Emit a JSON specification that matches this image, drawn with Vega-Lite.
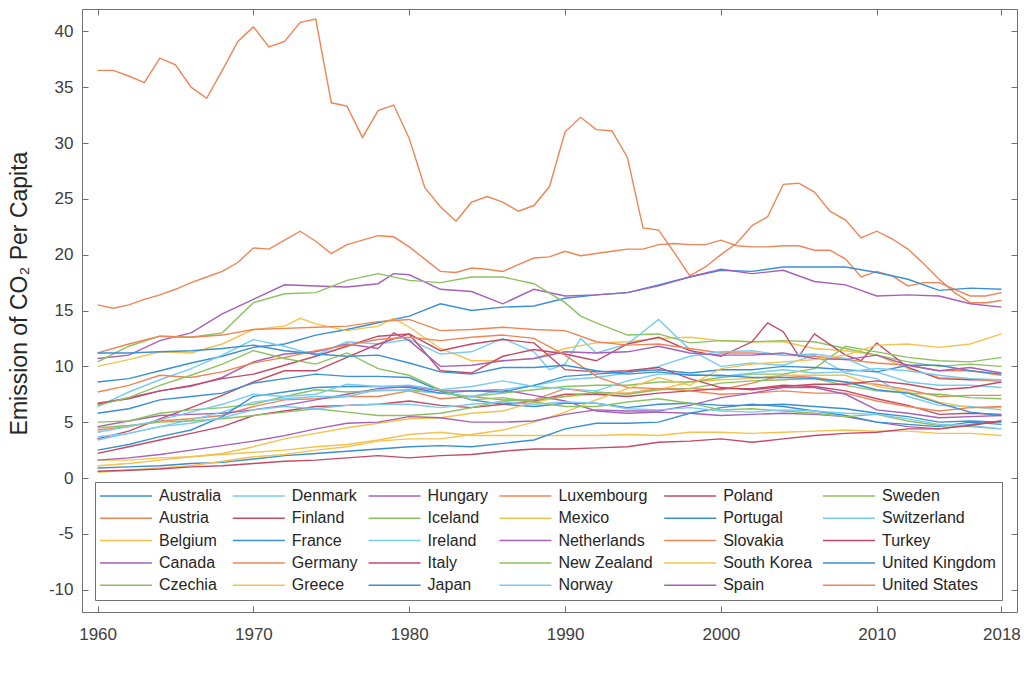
{
"$schema": "https://vega.github.io/schema/vega-lite/v6.json",
"width": 935, "height": 603,
"autosize": {"type": "none"},
"padding": {"left": 82, "top": 9, "right": 7, "bottom": 65},
"background": "white",
"config": {"view": {"stroke": "#707070", "strokeWidth": 1}, "font": "Liberation Sans"},
"datasets": {"d": [
{"c":"Luxembourg","y":1960,"v":36.5},{"c":"Luxembourg","y":1961,"v":36.5},{"c":"Luxembourg","y":1962,"v":36.0},{"c":"Luxembourg","y":1963,"v":35.4},{"c":"Luxembourg","y":1964,"v":37.6},{"c":"Luxembourg","y":1965,"v":37.0},{"c":"Luxembourg","y":1966,"v":35.0},{"c":"Luxembourg","y":1967,"v":34.0},{"c":"Luxembourg","y":1968,"v":36.5},{"c":"Luxembourg","y":1969,"v":39.1},{"c":"Luxembourg","y":1970,"v":40.4},{"c":"Luxembourg","y":1971,"v":38.6},{"c":"Luxembourg","y":1972,"v":39.1},{"c":"Luxembourg","y":1973,"v":40.8},{"c":"Luxembourg","y":1974,"v":41.1},{"c":"Luxembourg","y":1975,"v":33.6},{"c":"Luxembourg","y":1976,"v":33.3},{"c":"Luxembourg","y":1977,"v":30.5},{"c":"Luxembourg","y":1978,"v":32.9},{"c":"Luxembourg","y":1979,"v":33.4},{"c":"Luxembourg","y":1980,"v":30.4},{"c":"Luxembourg","y":1981,"v":26.0},{"c":"Luxembourg","y":1982,"v":24.3},{"c":"Luxembourg","y":1983,"v":23.0},{"c":"Luxembourg","y":1984,"v":24.7},{"c":"Luxembourg","y":1985,"v":25.2},{"c":"Luxembourg","y":1986,"v":24.7},{"c":"Luxembourg","y":1987,"v":23.9},{"c":"Luxembourg","y":1988,"v":24.4},{"c":"Luxembourg","y":1989,"v":26.1},{"c":"Luxembourg","y":1990,"v":31.0},{"c":"Luxembourg","y":1991,"v":32.3},{"c":"Luxembourg","y":1992,"v":31.2},{"c":"Luxembourg","y":1993,"v":31.1},{"c":"Luxembourg","y":1994,"v":28.7},{"c":"Luxembourg","y":1995,"v":22.4},{"c":"Luxembourg","y":1996,"v":22.2},{"c":"Luxembourg","y":1997,"v":20.2},{"c":"Luxembourg","y":1998,"v":18.1},{"c":"Luxembourg","y":1999,"v":18.9},{"c":"Luxembourg","y":2000,"v":20.0},{"c":"Luxembourg","y":2001,"v":21.0},{"c":"Luxembourg","y":2002,"v":22.6},{"c":"Luxembourg","y":2003,"v":23.4},{"c":"Luxembourg","y":2004,"v":26.3},{"c":"Luxembourg","y":2005,"v":26.4},{"c":"Luxembourg","y":2006,"v":25.6},{"c":"Luxembourg","y":2007,"v":23.9},{"c":"Luxembourg","y":2008,"v":23.1},{"c":"Luxembourg","y":2009,"v":21.5},{"c":"Luxembourg","y":2010,"v":22.1},{"c":"Luxembourg","y":2011,"v":21.4},{"c":"Luxembourg","y":2012,"v":20.5},{"c":"Luxembourg","y":2013,"v":19.2},{"c":"Luxembourg","y":2014,"v":17.8},{"c":"Luxembourg","y":2015,"v":16.6},{"c":"Luxembourg","y":2016,"v":15.7},{"c":"Luxembourg","y":2017,"v":15.7},{"c":"Luxembourg","y":2018,"v":15.9},
{"c":"United States","y":1960,"v":15.5},{"c":"United States","y":1961,"v":15.2},{"c":"United States","y":1962,"v":15.5},{"c":"United States","y":1963,"v":16.0},{"c":"United States","y":1964,"v":16.4},{"c":"United States","y":1965,"v":16.9},{"c":"United States","y":1966,"v":17.5},{"c":"United States","y":1967,"v":18.0},{"c":"United States","y":1968,"v":18.5},{"c":"United States","y":1969,"v":19.3},{"c":"United States","y":1970,"v":20.6},{"c":"United States","y":1971,"v":20.5},{"c":"United States","y":1972,"v":21.3},{"c":"United States","y":1973,"v":22.1},{"c":"United States","y":1974,"v":21.2},{"c":"United States","y":1975,"v":20.1},{"c":"United States","y":1976,"v":20.9},{"c":"United States","y":1977,"v":21.3},{"c":"United States","y":1978,"v":21.7},{"c":"United States","y":1979,"v":21.6},{"c":"United States","y":1980,"v":20.7},{"c":"United States","y":1981,"v":19.6},{"c":"United States","y":1982,"v":18.5},{"c":"United States","y":1983,"v":18.4},{"c":"United States","y":1984,"v":18.8},{"c":"United States","y":1985,"v":18.7},{"c":"United States","y":1986,"v":18.5},{"c":"United States","y":1987,"v":19.1},{"c":"United States","y":1988,"v":19.7},{"c":"United States","y":1989,"v":19.8},{"c":"United States","y":1990,"v":20.3},{"c":"United States","y":1991,"v":19.9},{"c":"United States","y":1992,"v":20.1},{"c":"United States","y":1993,"v":20.3},{"c":"United States","y":1994,"v":20.5},{"c":"United States","y":1995,"v":20.5},{"c":"United States","y":1996,"v":20.9},{"c":"United States","y":1997,"v":21.0},{"c":"United States","y":1998,"v":20.9},{"c":"United States","y":1999,"v":20.9},{"c":"United States","y":2000,"v":21.3},{"c":"United States","y":2001,"v":20.8},{"c":"United States","y":2002,"v":20.7},{"c":"United States","y":2003,"v":20.7},{"c":"United States","y":2004,"v":20.8},{"c":"United States","y":2005,"v":20.8},{"c":"United States","y":2006,"v":20.4},{"c":"United States","y":2007,"v":20.4},{"c":"United States","y":2008,"v":19.6},{"c":"United States","y":2009,"v":18.0},{"c":"United States","y":2010,"v":18.5},{"c":"United States","y":2011,"v":18.1},{"c":"United States","y":2012,"v":17.2},{"c":"United States","y":2013,"v":17.5},{"c":"United States","y":2014,"v":17.5},{"c":"United States","y":2015,"v":16.9},{"c":"United States","y":2016,"v":16.3},{"c":"United States","y":2017,"v":16.3},{"c":"United States","y":2018,"v":16.6},
{"c":"Australia","y":1960,"v":8.6},{"c":"Australia","y":1962,"v":8.9},{"c":"Australia","y":1964,"v":9.6},{"c":"Australia","y":1966,"v":10.3},{"c":"Australia","y":1968,"v":10.9},{"c":"Australia","y":1970,"v":11.7},{"c":"Australia","y":1972,"v":12.0},{"c":"Australia","y":1974,"v":12.8},{"c":"Australia","y":1976,"v":13.3},{"c":"Australia","y":1978,"v":13.9},{"c":"Australia","y":1980,"v":14.5},{"c":"Australia","y":1982,"v":15.6},{"c":"Australia","y":1984,"v":15.0},{"c":"Australia","y":1986,"v":15.3},{"c":"Australia","y":1988,"v":15.4},{"c":"Australia","y":1990,"v":16.1},{"c":"Australia","y":1992,"v":16.4},{"c":"Australia","y":1994,"v":16.6},{"c":"Australia","y":1996,"v":17.3},{"c":"Australia","y":1998,"v":18.0},{"c":"Australia","y":2000,"v":18.6},{"c":"Australia","y":2002,"v":18.5},{"c":"Australia","y":2004,"v":18.9},{"c":"Australia","y":2006,"v":18.9},{"c":"Australia","y":2008,"v":18.9},{"c":"Australia","y":2010,"v":18.4},{"c":"Australia","y":2012,"v":17.8},{"c":"Australia","y":2014,"v":16.8},{"c":"Australia","y":2016,"v":17.0},{"c":"Australia","y":2018,"v":16.9},
{"c":"Austria","y":1960,"v":4.3},{"c":"Austria","y":1962,"v":4.6},{"c":"Austria","y":1964,"v":5.1},{"c":"Austria","y":1966,"v":5.3},{"c":"Austria","y":1968,"v":5.6},{"c":"Austria","y":1970,"v":6.4},{"c":"Austria","y":1972,"v":7.0},{"c":"Austria","y":1974,"v":7.1},{"c":"Austria","y":1976,"v":7.3},{"c":"Austria","y":1978,"v":7.3},{"c":"Austria","y":1980,"v":7.8},{"c":"Austria","y":1982,"v":7.1},{"c":"Austria","y":1984,"v":7.3},{"c":"Austria","y":1986,"v":7.0},{"c":"Austria","y":1988,"v":7.0},{"c":"Austria","y":1990,"v":8.0},{"c":"Austria","y":1992,"v":7.6},{"c":"Austria","y":1994,"v":7.6},{"c":"Austria","y":1996,"v":8.0},{"c":"Austria","y":1998,"v":8.0},{"c":"Austria","y":2000,"v":7.9},{"c":"Austria","y":2002,"v":8.5},{"c":"Austria","y":2004,"v":9.2},{"c":"Austria","y":2006,"v":9.0},{"c":"Austria","y":2008,"v":8.6},{"c":"Austria","y":2010,"v":8.4},{"c":"Austria","y":2012,"v":7.9},{"c":"Austria","y":2014,"v":7.3},{"c":"Austria","y":2016,"v":7.4},{"c":"Austria","y":2018,"v":7.4},
{"c":"Belgium","y":1960,"v":10.0},{"c":"Belgium","y":1962,"v":10.6},{"c":"Belgium","y":1964,"v":11.3},{"c":"Belgium","y":1966,"v":11.2},{"c":"Belgium","y":1968,"v":12.0},{"c":"Belgium","y":1970,"v":13.3},{"c":"Belgium","y":1972,"v":13.6},{"c":"Belgium","y":1973,"v":14.3},{"c":"Belgium","y":1974,"v":13.8},{"c":"Belgium","y":1976,"v":13.2},{"c":"Belgium","y":1978,"v":13.6},{"c":"Belgium","y":1979,"v":14.3},{"c":"Belgium","y":1980,"v":13.5},{"c":"Belgium","y":1982,"v":11.6},{"c":"Belgium","y":1984,"v":10.5},{"c":"Belgium","y":1986,"v":10.5},{"c":"Belgium","y":1988,"v":10.7},{"c":"Belgium","y":1990,"v":11.6},{"c":"Belgium","y":1992,"v":12.1},{"c":"Belgium","y":1994,"v":12.2},{"c":"Belgium","y":1996,"v":12.5},{"c":"Belgium","y":1998,"v":12.6},{"c":"Belgium","y":2000,"v":12.3},{"c":"Belgium","y":2002,"v":12.2},{"c":"Belgium","y":2004,"v":12.2},{"c":"Belgium","y":2006,"v":11.6},{"c":"Belgium","y":2008,"v":11.4},{"c":"Belgium","y":2010,"v":11.0},{"c":"Belgium","y":2012,"v":9.8},{"c":"Belgium","y":2014,"v":9.0},{"c":"Belgium","y":2016,"v":8.9},{"c":"Belgium","y":2018,"v":8.6},
{"c":"Canada","y":1960,"v":10.7},{"c":"Canada","y":1962,"v":11.0},{"c":"Canada","y":1964,"v":12.3},{"c":"Canada","y":1966,"v":13.0},{"c":"Canada","y":1968,"v":14.7},{"c":"Canada","y":1970,"v":16.0},{"c":"Canada","y":1972,"v":17.3},{"c":"Canada","y":1974,"v":17.2},{"c":"Canada","y":1976,"v":17.1},{"c":"Canada","y":1978,"v":17.4},{"c":"Canada","y":1979,"v":18.3},{"c":"Canada","y":1980,"v":18.2},{"c":"Canada","y":1982,"v":16.9},{"c":"Canada","y":1984,"v":16.7},{"c":"Canada","y":1986,"v":15.6},{"c":"Canada","y":1988,"v":16.9},{"c":"Canada","y":1990,"v":16.3},{"c":"Canada","y":1992,"v":16.4},{"c":"Canada","y":1994,"v":16.6},{"c":"Canada","y":1996,"v":17.2},{"c":"Canada","y":1998,"v":18.0},{"c":"Canada","y":2000,"v":18.7},{"c":"Canada","y":2002,"v":18.3},{"c":"Canada","y":2004,"v":18.6},{"c":"Canada","y":2006,"v":17.6},{"c":"Canada","y":2008,"v":17.3},{"c":"Canada","y":2010,"v":16.3},{"c":"Canada","y":2012,"v":16.4},{"c":"Canada","y":2014,"v":16.3},{"c":"Canada","y":2016,"v":15.6},{"c":"Canada","y":2018,"v":15.3},
{"c":"Czechia","y":1960,"v":10.4},{"c":"Czechia","y":1962,"v":11.8},{"c":"Czechia","y":1964,"v":12.7},{"c":"Czechia","y":1966,"v":12.6},{"c":"Czechia","y":1968,"v":13.0},{"c":"Czechia","y":1970,"v":15.7},{"c":"Czechia","y":1972,"v":16.5},{"c":"Czechia","y":1974,"v":16.6},{"c":"Czechia","y":1976,"v":17.7},{"c":"Czechia","y":1978,"v":18.3},{"c":"Czechia","y":1980,"v":17.7},{"c":"Czechia","y":1982,"v":17.5},{"c":"Czechia","y":1984,"v":18.0},{"c":"Czechia","y":1986,"v":18.0},{"c":"Czechia","y":1988,"v":17.4},{"c":"Czechia","y":1990,"v":15.7},{"c":"Czechia","y":1991,"v":14.5},{"c":"Czechia","y":1992,"v":13.9},{"c":"Czechia","y":1994,"v":12.8},{"c":"Czechia","y":1996,"v":12.9},{"c":"Czechia","y":1998,"v":12.1},{"c":"Czechia","y":2000,"v":12.3},{"c":"Czechia","y":2002,"v":12.2},{"c":"Czechia","y":2004,"v":12.3},{"c":"Czechia","y":2006,"v":12.2},{"c":"Czechia","y":2008,"v":11.6},{"c":"Czechia","y":2010,"v":11.0},{"c":"Czechia","y":2012,"v":10.4},{"c":"Czechia","y":2014,"v":10.0},{"c":"Czechia","y":2016,"v":10.2},{"c":"Czechia","y":2018,"v":10.0},
{"c":"Denmark","y":1960,"v":6.4},{"c":"Denmark","y":1962,"v":7.7},{"c":"Denmark","y":1964,"v":8.8},{"c":"Denmark","y":1966,"v":9.8},{"c":"Denmark","y":1968,"v":11.0},{"c":"Denmark","y":1970,"v":12.4},{"c":"Denmark","y":1972,"v":11.8},{"c":"Denmark","y":1974,"v":11.0},{"c":"Denmark","y":1976,"v":12.2},{"c":"Denmark","y":1978,"v":12.0},{"c":"Denmark","y":1980,"v":12.4},{"c":"Denmark","y":1982,"v":11.1},{"c":"Denmark","y":1984,"v":11.3},{"c":"Denmark","y":1986,"v":12.5},{"c":"Denmark","y":1988,"v":11.3},{"c":"Denmark","y":1989,"v":9.7},{"c":"Denmark","y":1990,"v":10.2},{"c":"Denmark","y":1991,"v":12.5},{"c":"Denmark","y":1992,"v":11.2},{"c":"Denmark","y":1994,"v":12.0},{"c":"Denmark","y":1996,"v":14.2},{"c":"Denmark","y":1998,"v":11.5},{"c":"Denmark","y":2000,"v":10.0},{"c":"Denmark","y":2002,"v":10.3},{"c":"Denmark","y":2004,"v":10.1},{"c":"Denmark","y":2006,"v":11.0},{"c":"Denmark","y":2008,"v":9.4},{"c":"Denmark","y":2010,"v":8.9},{"c":"Denmark","y":2012,"v":7.3},{"c":"Denmark","y":2014,"v":6.5},{"c":"Denmark","y":2016,"v":6.4},{"c":"Denmark","y":2018,"v":6.1},
{"c":"Finland","y":1960,"v":3.5},{"c":"Finland","y":1962,"v":4.2},{"c":"Finland","y":1964,"v":5.3},{"c":"Finland","y":1966,"v":6.3},{"c":"Finland","y":1968,"v":7.4},{"c":"Finland","y":1970,"v":8.6},{"c":"Finland","y":1972,"v":9.6},{"c":"Finland","y":1974,"v":9.6},{"c":"Finland","y":1976,"v":10.8},{"c":"Finland","y":1978,"v":12.0},{"c":"Finland","y":1980,"v":12.9},{"c":"Finland","y":1982,"v":9.6},{"c":"Finland","y":1984,"v":9.4},{"c":"Finland","y":1986,"v":10.9},{"c":"Finland","y":1988,"v":11.5},{"c":"Finland","y":1990,"v":11.1},{"c":"Finland","y":1992,"v":10.5},{"c":"Finland","y":1994,"v":12.0},{"c":"Finland","y":1996,"v":12.6},{"c":"Finland","y":1998,"v":11.4},{"c":"Finland","y":2000,"v":10.9},{"c":"Finland","y":2002,"v":12.2},{"c":"Finland","y":2003,"v":13.9},{"c":"Finland","y":2004,"v":13.1},{"c":"Finland","y":2005,"v":10.9},{"c":"Finland","y":2006,"v":12.9},{"c":"Finland","y":2008,"v":11.0},{"c":"Finland","y":2009,"v":10.5},{"c":"Finland","y":2010,"v":12.1},{"c":"Finland","y":2012,"v":9.9},{"c":"Finland","y":2014,"v":8.9},{"c":"Finland","y":2016,"v":8.8},{"c":"Finland","y":2018,"v":8.8},
{"c":"France","y":1960,"v":5.8},{"c":"France","y":1962,"v":6.2},{"c":"France","y":1964,"v":7.0},{"c":"France","y":1966,"v":7.3},{"c":"France","y":1968,"v":7.6},{"c":"France","y":1970,"v":8.5},{"c":"France","y":1972,"v":8.9},{"c":"France","y":1974,"v":9.3},{"c":"France","y":1976,"v":9.1},{"c":"France","y":1978,"v":9.1},{"c":"France","y":1980,"v":9.0},{"c":"France","y":1982,"v":7.8},{"c":"France","y":1984,"v":7.0},{"c":"France","y":1986,"v":6.6},{"c":"France","y":1988,"v":6.4},{"c":"France","y":1990,"v":6.7},{"c":"France","y":1992,"v":6.7},{"c":"France","y":1994,"v":6.3},{"c":"France","y":1996,"v":6.6},{"c":"France","y":1998,"v":6.7},{"c":"France","y":2000,"v":6.5},{"c":"France","y":2002,"v":6.5},{"c":"France","y":2004,"v":6.6},{"c":"France","y":2006,"v":6.4},{"c":"France","y":2008,"v":6.2},{"c":"France","y":2010,"v":5.8},{"c":"France","y":2012,"v":5.5},{"c":"France","y":2014,"v":5.0},{"c":"France","y":2016,"v":5.1},{"c":"France","y":2018,"v":5.0},
{"c":"Germany","y":1960,"v":11.2},{"c":"Germany","y":1962,"v":12.0},{"c":"Germany","y":1964,"v":12.7},{"c":"Germany","y":1966,"v":12.6},{"c":"Germany","y":1968,"v":12.8},{"c":"Germany","y":1970,"v":13.3},{"c":"Germany","y":1972,"v":13.4},{"c":"Germany","y":1974,"v":13.5},{"c":"Germany","y":1976,"v":13.6},{"c":"Germany","y":1978,"v":14.0},{"c":"Germany","y":1980,"v":14.2},{"c":"Germany","y":1982,"v":13.2},{"c":"Germany","y":1984,"v":13.3},{"c":"Germany","y":1986,"v":13.5},{"c":"Germany","y":1988,"v":13.3},{"c":"Germany","y":1990,"v":13.2},{"c":"Germany","y":1992,"v":12.2},{"c":"Germany","y":1994,"v":11.9},{"c":"Germany","y":1996,"v":12.0},{"c":"Germany","y":1998,"v":11.6},{"c":"Germany","y":2000,"v":11.2},{"c":"Germany","y":2002,"v":11.2},{"c":"Germany","y":2004,"v":11.0},{"c":"Germany","y":2006,"v":10.9},{"c":"Germany","y":2008,"v":10.6},{"c":"Germany","y":2010,"v":10.3},{"c":"Germany","y":2012,"v":10.1},{"c":"Germany","y":2014,"v":9.6},{"c":"Germany","y":2016,"v":9.6},{"c":"Germany","y":2018,"v":9.2},
{"c":"Greece","y":1960,"v":1.1},{"c":"Greece","y":1962,"v":1.3},{"c":"Greece","y":1964,"v":1.6},{"c":"Greece","y":1966,"v":1.9},{"c":"Greece","y":1968,"v":2.2},{"c":"Greece","y":1970,"v":2.8},{"c":"Greece","y":1972,"v":3.5},{"c":"Greece","y":1974,"v":4.0},{"c":"Greece","y":1976,"v":4.5},{"c":"Greece","y":1978,"v":4.9},{"c":"Greece","y":1980,"v":5.3},{"c":"Greece","y":1982,"v":5.4},{"c":"Greece","y":1984,"v":5.8},{"c":"Greece","y":1986,"v":6.0},{"c":"Greece","y":1988,"v":6.8},{"c":"Greece","y":1990,"v":7.3},{"c":"Greece","y":1992,"v":7.5},{"c":"Greece","y":1994,"v":7.6},{"c":"Greece","y":1996,"v":7.9},{"c":"Greece","y":1998,"v":8.6},{"c":"Greece","y":2000,"v":8.8},{"c":"Greece","y":2002,"v":8.9},{"c":"Greece","y":2004,"v":9.2},{"c":"Greece","y":2006,"v":9.2},{"c":"Greece","y":2008,"v":9.2},{"c":"Greece","y":2010,"v":8.2},{"c":"Greece","y":2012,"v":7.7},{"c":"Greece","y":2014,"v":6.8},{"c":"Greece","y":2016,"v":6.3},{"c":"Greece","y":2018,"v":6.3},
{"c":"Hungary","y":1960,"v":4.6},{"c":"Hungary","y":1962,"v":5.1},{"c":"Hungary","y":1964,"v":5.6},{"c":"Hungary","y":1966,"v":5.7},{"c":"Hungary","y":1968,"v":5.8},{"c":"Hungary","y":1970,"v":6.1},{"c":"Hungary","y":1972,"v":6.5},{"c":"Hungary","y":1974,"v":7.0},{"c":"Hungary","y":1976,"v":7.5},{"c":"Hungary","y":1978,"v":8.0},{"c":"Hungary","y":1980,"v":8.2},{"c":"Hungary","y":1982,"v":7.8},{"c":"Hungary","y":1984,"v":7.8},{"c":"Hungary","y":1986,"v":7.9},{"c":"Hungary","y":1988,"v":7.4},{"c":"Hungary","y":1990,"v":6.9},{"c":"Hungary","y":1992,"v":6.0},{"c":"Hungary","y":1994,"v":5.8},{"c":"Hungary","y":1996,"v":5.9},{"c":"Hungary","y":1998,"v":5.8},{"c":"Hungary","y":2000,"v":5.6},{"c":"Hungary","y":2002,"v":5.7},{"c":"Hungary","y":2004,"v":5.8},{"c":"Hungary","y":2006,"v":5.7},{"c":"Hungary","y":2008,"v":5.5},{"c":"Hungary","y":2010,"v":5.0},{"c":"Hungary","y":2012,"v":4.6},{"c":"Hungary","y":2014,"v":4.4},{"c":"Hungary","y":2016,"v":4.8},{"c":"Hungary","y":2018,"v":5.1},
{"c":"Iceland","y":1960,"v":5.0},{"c":"Iceland","y":1962,"v":5.1},{"c":"Iceland","y":1964,"v":5.8},{"c":"Iceland","y":1966,"v":6.1},{"c":"Iceland","y":1968,"v":6.3},{"c":"Iceland","y":1970,"v":6.6},{"c":"Iceland","y":1972,"v":7.3},{"c":"Iceland","y":1974,"v":7.9},{"c":"Iceland","y":1976,"v":7.7},{"c":"Iceland","y":1978,"v":7.8},{"c":"Iceland","y":1980,"v":7.9},{"c":"Iceland","y":1982,"v":7.6},{"c":"Iceland","y":1984,"v":7.3},{"c":"Iceland","y":1986,"v":7.6},{"c":"Iceland","y":1988,"v":7.9},{"c":"Iceland","y":1990,"v":8.2},{"c":"Iceland","y":1992,"v":8.3},{"c":"Iceland","y":1994,"v":8.3},{"c":"Iceland","y":1996,"v":8.6},{"c":"Iceland","y":1998,"v":8.6},{"c":"Iceland","y":2000,"v":9.0},{"c":"Iceland","y":2002,"v":9.3},{"c":"Iceland","y":2004,"v":9.3},{"c":"Iceland","y":2006,"v":9.8},{"c":"Iceland","y":2008,"v":11.8},{"c":"Iceland","y":2010,"v":11.3},{"c":"Iceland","y":2012,"v":10.8},{"c":"Iceland","y":2014,"v":10.5},{"c":"Iceland","y":2016,"v":10.4},{"c":"Iceland","y":2018,"v":10.8},
{"c":"Ireland","y":1960,"v":3.7},{"c":"Ireland","y":1962,"v":4.0},{"c":"Ireland","y":1964,"v":4.6},{"c":"Ireland","y":1966,"v":5.2},{"c":"Ireland","y":1968,"v":5.9},{"c":"Ireland","y":1970,"v":6.8},{"c":"Ireland","y":1972,"v":7.1},{"c":"Ireland","y":1974,"v":7.3},{"c":"Ireland","y":1976,"v":7.3},{"c":"Ireland","y":1978,"v":7.9},{"c":"Ireland","y":1980,"v":7.8},{"c":"Ireland","y":1982,"v":7.6},{"c":"Ireland","y":1984,"v":7.3},{"c":"Ireland","y":1986,"v":7.9},{"c":"Ireland","y":1988,"v":8.3},{"c":"Ireland","y":1990,"v":8.8},{"c":"Ireland","y":1992,"v":9.0},{"c":"Ireland","y":1994,"v":9.4},{"c":"Ireland","y":1996,"v":10.0},{"c":"Ireland","y":1998,"v":10.9},{"c":"Ireland","y":2000,"v":11.3},{"c":"Ireland","y":2002,"v":11.4},{"c":"Ireland","y":2004,"v":11.0},{"c":"Ireland","y":2006,"v":11.1},{"c":"Ireland","y":2008,"v":10.7},{"c":"Ireland","y":2010,"v":9.5},{"c":"Ireland","y":2012,"v":8.6},{"c":"Ireland","y":2014,"v":8.3},{"c":"Ireland","y":2016,"v":8.3},{"c":"Ireland","y":2018,"v":8.1},
{"c":"Italy","y":1960,"v":2.2},{"c":"Italy","y":1962,"v":2.8},{"c":"Italy","y":1964,"v":3.4},{"c":"Italy","y":1966,"v":4.0},{"c":"Italy","y":1968,"v":4.6},{"c":"Italy","y":1970,"v":5.6},{"c":"Italy","y":1972,"v":6.0},{"c":"Italy","y":1974,"v":6.4},{"c":"Italy","y":1976,"v":6.5},{"c":"Italy","y":1978,"v":6.6},{"c":"Italy","y":1980,"v":6.9},{"c":"Italy","y":1982,"v":6.5},{"c":"Italy","y":1984,"v":6.3},{"c":"Italy","y":1986,"v":6.6},{"c":"Italy","y":1988,"v":6.9},{"c":"Italy","y":1990,"v":7.5},{"c":"Italy","y":1992,"v":7.5},{"c":"Italy","y":1994,"v":7.3},{"c":"Italy","y":1996,"v":7.6},{"c":"Italy","y":1998,"v":7.8},{"c":"Italy","y":2000,"v":8.0},{"c":"Italy","y":2002,"v":8.0},{"c":"Italy","y":2004,"v":8.3},{"c":"Italy","y":2006,"v":8.2},{"c":"Italy","y":2008,"v":7.8},{"c":"Italy","y":2010,"v":7.1},{"c":"Italy","y":2012,"v":6.5},{"c":"Italy","y":2014,"v":5.7},{"c":"Italy","y":2016,"v":5.8},{"c":"Italy","y":2018,"v":5.7},
{"c":"Japan","y":1960,"v":2.5},{"c":"Japan","y":1962,"v":3.0},{"c":"Japan","y":1964,"v":3.7},{"c":"Japan","y":1966,"v":4.3},{"c":"Japan","y":1968,"v":5.5},{"c":"Japan","y":1970,"v":7.3},{"c":"Japan","y":1972,"v":7.7},{"c":"Japan","y":1974,"v":8.1},{"c":"Japan","y":1976,"v":8.2},{"c":"Japan","y":1978,"v":8.2},{"c":"Japan","y":1980,"v":8.1},{"c":"Japan","y":1982,"v":7.6},{"c":"Japan","y":1984,"v":7.8},{"c":"Japan","y":1986,"v":7.7},{"c":"Japan","y":1988,"v":8.3},{"c":"Japan","y":1990,"v":9.1},{"c":"Japan","y":1992,"v":9.3},{"c":"Japan","y":1994,"v":9.5},{"c":"Japan","y":1996,"v":9.7},{"c":"Japan","y":1998,"v":9.4},{"c":"Japan","y":2000,"v":9.7},{"c":"Japan","y":2002,"v":9.7},{"c":"Japan","y":2004,"v":10.0},{"c":"Japan","y":2006,"v":9.9},{"c":"Japan","y":2008,"v":9.7},{"c":"Japan","y":2010,"v":9.5},{"c":"Japan","y":2012,"v":10.1},{"c":"Japan","y":2014,"v":10.1},{"c":"Japan","y":2016,"v":9.6},{"c":"Japan","y":2018,"v":9.3},
{"c":"Mexico","y":1960,"v":1.6},{"c":"Mexico","y":1962,"v":1.6},{"c":"Mexico","y":1964,"v":1.8},{"c":"Mexico","y":1966,"v":1.9},{"c":"Mexico","y":1968,"v":2.1},{"c":"Mexico","y":1970,"v":2.3},{"c":"Mexico","y":1972,"v":2.5},{"c":"Mexico","y":1974,"v":2.8},{"c":"Mexico","y":1976,"v":3.0},{"c":"Mexico","y":1978,"v":3.4},{"c":"Mexico","y":1980,"v":3.9},{"c":"Mexico","y":1982,"v":4.1},{"c":"Mexico","y":1984,"v":3.8},{"c":"Mexico","y":1986,"v":3.8},{"c":"Mexico","y":1988,"v":3.8},{"c":"Mexico","y":1990,"v":3.8},{"c":"Mexico","y":1992,"v":3.8},{"c":"Mexico","y":1994,"v":3.9},{"c":"Mexico","y":1996,"v":3.8},{"c":"Mexico","y":1998,"v":4.1},{"c":"Mexico","y":2000,"v":4.1},{"c":"Mexico","y":2002,"v":4.0},{"c":"Mexico","y":2004,"v":4.1},{"c":"Mexico","y":2006,"v":4.2},{"c":"Mexico","y":2008,"v":4.3},{"c":"Mexico","y":2010,"v":4.2},{"c":"Mexico","y":2012,"v":4.2},{"c":"Mexico","y":2014,"v":4.0},{"c":"Mexico","y":2016,"v":4.0},{"c":"Mexico","y":2018,"v":3.8},
{"c":"Netherlands","y":1960,"v":6.6},{"c":"Netherlands","y":1962,"v":7.2},{"c":"Netherlands","y":1964,"v":7.8},{"c":"Netherlands","y":1966,"v":8.2},{"c":"Netherlands","y":1968,"v":9.0},{"c":"Netherlands","y":1970,"v":10.4},{"c":"Netherlands","y":1972,"v":11.1},{"c":"Netherlands","y":1974,"v":11.3},{"c":"Netherlands","y":1976,"v":12.0},{"c":"Netherlands","y":1978,"v":11.6},{"c":"Netherlands","y":1979,"v":13.0},{"c":"Netherlands","y":1980,"v":12.3},{"c":"Netherlands","y":1982,"v":10.0},{"c":"Netherlands","y":1984,"v":10.1},{"c":"Netherlands","y":1986,"v":10.5},{"c":"Netherlands","y":1988,"v":10.7},{"c":"Netherlands","y":1990,"v":11.3},{"c":"Netherlands","y":1992,"v":11.2},{"c":"Netherlands","y":1994,"v":11.3},{"c":"Netherlands","y":1996,"v":11.8},{"c":"Netherlands","y":1998,"v":11.2},{"c":"Netherlands","y":2000,"v":11.0},{"c":"Netherlands","y":2002,"v":11.0},{"c":"Netherlands","y":2004,"v":11.2},{"c":"Netherlands","y":2006,"v":10.7},{"c":"Netherlands","y":2008,"v":10.6},{"c":"Netherlands","y":2010,"v":11.0},{"c":"Netherlands","y":2012,"v":10.1},{"c":"Netherlands","y":2014,"v":9.6},{"c":"Netherlands","y":2016,"v":9.9},{"c":"Netherlands","y":2018,"v":9.4},
{"c":"New Zealand","y":1960,"v":4.5},{"c":"New Zealand","y":1962,"v":4.7},{"c":"New Zealand","y":1964,"v":5.0},{"c":"New Zealand","y":1966,"v":5.1},{"c":"New Zealand","y":1968,"v":5.3},{"c":"New Zealand","y":1970,"v":5.6},{"c":"New Zealand","y":1972,"v":5.9},{"c":"New Zealand","y":1974,"v":6.2},{"c":"New Zealand","y":1976,"v":5.9},{"c":"New Zealand","y":1978,"v":5.6},{"c":"New Zealand","y":1980,"v":5.6},{"c":"New Zealand","y":1982,"v":5.8},{"c":"New Zealand","y":1984,"v":6.3},{"c":"New Zealand","y":1986,"v":6.9},{"c":"New Zealand","y":1988,"v":7.0},{"c":"New Zealand","y":1990,"v":7.3},{"c":"New Zealand","y":1992,"v":7.7},{"c":"New Zealand","y":1994,"v":7.5},{"c":"New Zealand","y":1996,"v":7.9},{"c":"New Zealand","y":1998,"v":8.0},{"c":"New Zealand","y":2000,"v":8.5},{"c":"New Zealand","y":2002,"v":8.7},{"c":"New Zealand","y":2004,"v":8.8},{"c":"New Zealand","y":2006,"v":8.9},{"c":"New Zealand","y":2008,"v":8.3},{"c":"New Zealand","y":2010,"v":7.8},{"c":"New Zealand","y":2012,"v":7.6},{"c":"New Zealand","y":2014,"v":7.5},{"c":"New Zealand","y":2016,"v":7.2},{"c":"New Zealand","y":2018,"v":7.1},
{"c":"Norway","y":1960,"v":4.1},{"c":"Norway","y":1962,"v":4.6},{"c":"Norway","y":1964,"v":5.2},{"c":"Norway","y":1966,"v":5.9},{"c":"Norway","y":1968,"v":6.6},{"c":"Norway","y":1970,"v":7.5},{"c":"Norway","y":1972,"v":7.3},{"c":"Norway","y":1974,"v":7.5},{"c":"Norway","y":1976,"v":8.4},{"c":"Norway","y":1978,"v":8.2},{"c":"Norway","y":1980,"v":8.3},{"c":"Norway","y":1982,"v":7.9},{"c":"Norway","y":1984,"v":8.2},{"c":"Norway","y":1986,"v":8.7},{"c":"Norway","y":1988,"v":8.2},{"c":"Norway","y":1990,"v":8.0},{"c":"Norway","y":1992,"v":7.8},{"c":"Norway","y":1994,"v":8.7},{"c":"Norway","y":1996,"v":9.3},{"c":"Norway","y":1998,"v":9.3},{"c":"Norway","y":2000,"v":9.1},{"c":"Norway","y":2002,"v":9.4},{"c":"Norway","y":2004,"v":9.7},{"c":"Norway","y":2006,"v":9.4},{"c":"Norway","y":2008,"v":9.5},{"c":"Norway","y":2010,"v":9.8},{"c":"Norway","y":2012,"v":9.6},{"c":"Norway","y":2014,"v":9.2},{"c":"Norway","y":2016,"v":8.9},{"c":"Norway","y":2018,"v":8.8},
{"c":"Poland","y":1960,"v":6.7},{"c":"Poland","y":1962,"v":7.1},{"c":"Poland","y":1964,"v":7.8},{"c":"Poland","y":1966,"v":8.3},{"c":"Poland","y":1968,"v":8.9},{"c":"Poland","y":1970,"v":9.3},{"c":"Poland","y":1972,"v":10.1},{"c":"Poland","y":1974,"v":10.9},{"c":"Poland","y":1976,"v":11.8},{"c":"Poland","y":1978,"v":12.7},{"c":"Poland","y":1980,"v":12.9},{"c":"Poland","y":1982,"v":11.4},{"c":"Poland","y":1984,"v":12.0},{"c":"Poland","y":1986,"v":12.4},{"c":"Poland","y":1988,"v":12.1},{"c":"Poland","y":1990,"v":9.7},{"c":"Poland","y":1992,"v":9.5},{"c":"Poland","y":1994,"v":9.6},{"c":"Poland","y":1996,"v":9.9},{"c":"Poland","y":1998,"v":8.9},{"c":"Poland","y":2000,"v":8.1},{"c":"Poland","y":2002,"v":7.9},{"c":"Poland","y":2004,"v":8.2},{"c":"Poland","y":2006,"v":8.4},{"c":"Poland","y":2008,"v":8.4},{"c":"Poland","y":2010,"v":8.7},{"c":"Poland","y":2012,"v":8.4},{"c":"Poland","y":2014,"v":7.9},{"c":"Poland","y":2016,"v":8.1},{"c":"Poland","y":2018,"v":8.6},
{"c":"Portugal","y":1960,"v":0.9},{"c":"Portugal","y":1962,"v":1.0},{"c":"Portugal","y":1964,"v":1.1},{"c":"Portugal","y":1966,"v":1.3},{"c":"Portugal","y":1968,"v":1.4},{"c":"Portugal","y":1970,"v":1.7},{"c":"Portugal","y":1972,"v":2.0},{"c":"Portugal","y":1974,"v":2.2},{"c":"Portugal","y":1976,"v":2.4},{"c":"Portugal","y":1978,"v":2.6},{"c":"Portugal","y":1980,"v":2.8},{"c":"Portugal","y":1982,"v":2.9},{"c":"Portugal","y":1984,"v":2.8},{"c":"Portugal","y":1986,"v":3.1},{"c":"Portugal","y":1988,"v":3.4},{"c":"Portugal","y":1990,"v":4.4},{"c":"Portugal","y":1992,"v":4.9},{"c":"Portugal","y":1994,"v":4.9},{"c":"Portugal","y":1996,"v":5.0},{"c":"Portugal","y":1998,"v":5.8},{"c":"Portugal","y":2000,"v":6.3},{"c":"Portugal","y":2002,"v":6.6},{"c":"Portugal","y":2004,"v":6.4},{"c":"Portugal","y":2006,"v":6.0},{"c":"Portugal","y":2008,"v":5.6},{"c":"Portugal","y":2010,"v":5.0},{"c":"Portugal","y":2012,"v":4.8},{"c":"Portugal","y":2014,"v":4.6},{"c":"Portugal","y":2016,"v":5.0},{"c":"Portugal","y":2018,"v":4.8},
{"c":"Slovakia","y":1960,"v":7.7},{"c":"Slovakia","y":1962,"v":8.3},{"c":"Slovakia","y":1964,"v":9.2},{"c":"Slovakia","y":1966,"v":9.0},{"c":"Slovakia","y":1968,"v":9.5},{"c":"Slovakia","y":1970,"v":10.3},{"c":"Slovakia","y":1972,"v":10.8},{"c":"Slovakia","y":1974,"v":11.4},{"c":"Slovakia","y":1976,"v":11.9},{"c":"Slovakia","y":1978,"v":12.4},{"c":"Slovakia","y":1980,"v":12.6},{"c":"Slovakia","y":1982,"v":12.3},{"c":"Slovakia","y":1984,"v":12.6},{"c":"Slovakia","y":1986,"v":12.8},{"c":"Slovakia","y":1988,"v":12.5},{"c":"Slovakia","y":1990,"v":11.0},{"c":"Slovakia","y":1992,"v":9.1},{"c":"Slovakia","y":1994,"v":8.1},{"c":"Slovakia","y":1996,"v":8.0},{"c":"Slovakia","y":1998,"v":7.8},{"c":"Slovakia","y":2000,"v":7.5},{"c":"Slovakia","y":2002,"v":7.6},{"c":"Slovakia","y":2004,"v":7.8},{"c":"Slovakia","y":2006,"v":7.6},{"c":"Slovakia","y":2008,"v":7.6},{"c":"Slovakia","y":2010,"v":6.9},{"c":"Slovakia","y":2012,"v":6.4},{"c":"Slovakia","y":2014,"v":6.0},{"c":"Slovakia","y":2016,"v":6.3},{"c":"Slovakia","y":2018,"v":6.4},
{"c":"South Korea","y":1960,"v":0.5},{"c":"South Korea","y":1962,"v":0.7},{"c":"South Korea","y":1964,"v":0.9},{"c":"South Korea","y":1966,"v":1.1},{"c":"South Korea","y":1968,"v":1.5},{"c":"South Korea","y":1970,"v":1.9},{"c":"South Korea","y":1972,"v":2.1},{"c":"South Korea","y":1974,"v":2.5},{"c":"South Korea","y":1976,"v":2.8},{"c":"South Korea","y":1978,"v":3.3},{"c":"South Korea","y":1980,"v":3.5},{"c":"South Korea","y":1982,"v":3.5},{"c":"South Korea","y":1984,"v":3.9},{"c":"South Korea","y":1986,"v":4.3},{"c":"South Korea","y":1988,"v":5.0},{"c":"South Korea","y":1990,"v":5.9},{"c":"South Korea","y":1992,"v":7.0},{"c":"South Korea","y":1994,"v":8.0},{"c":"South Korea","y":1996,"v":9.0},{"c":"South Korea","y":1998,"v":8.3},{"c":"South Korea","y":2000,"v":9.8},{"c":"South Korea","y":2002,"v":10.2},{"c":"South Korea","y":2004,"v":10.4},{"c":"South Korea","y":2006,"v":10.6},{"c":"South Korea","y":2008,"v":11.0},{"c":"South Korea","y":2010,"v":11.9},{"c":"South Korea","y":2012,"v":12.0},{"c":"South Korea","y":2014,"v":11.7},{"c":"South Korea","y":2016,"v":12.0},{"c":"South Korea","y":2018,"v":12.9},
{"c":"Spain","y":1960,"v":1.6},{"c":"Spain","y":1962,"v":1.8},{"c":"Spain","y":1964,"v":2.1},{"c":"Spain","y":1966,"v":2.5},{"c":"Spain","y":1968,"v":2.9},{"c":"Spain","y":1970,"v":3.3},{"c":"Spain","y":1972,"v":3.8},{"c":"Spain","y":1974,"v":4.4},{"c":"Spain","y":1976,"v":4.9},{"c":"Spain","y":1978,"v":5.0},{"c":"Spain","y":1980,"v":5.5},{"c":"Spain","y":1982,"v":5.4},{"c":"Spain","y":1984,"v":5.0},{"c":"Spain","y":1986,"v":5.0},{"c":"Spain","y":1988,"v":5.1},{"c":"Spain","y":1990,"v":5.7},{"c":"Spain","y":1992,"v":6.1},{"c":"Spain","y":1994,"v":6.0},{"c":"Spain","y":1996,"v":6.0},{"c":"Spain","y":1998,"v":6.5},{"c":"Spain","y":2000,"v":7.2},{"c":"Spain","y":2002,"v":7.6},{"c":"Spain","y":2004,"v":8.1},{"c":"Spain","y":2006,"v":8.1},{"c":"Spain","y":2008,"v":7.5},{"c":"Spain","y":2010,"v":6.1},{"c":"Spain","y":2012,"v":5.8},{"c":"Spain","y":2014,"v":5.4},{"c":"Spain","y":2016,"v":5.5},{"c":"Spain","y":2018,"v":5.6},
{"c":"Sweden","y":1960,"v":6.5},{"c":"Sweden","y":1962,"v":7.2},{"c":"Sweden","y":1964,"v":8.3},{"c":"Sweden","y":1966,"v":9.2},{"c":"Sweden","y":1968,"v":10.2},{"c":"Sweden","y":1970,"v":11.4},{"c":"Sweden","y":1972,"v":10.7},{"c":"Sweden","y":1974,"v":10.2},{"c":"Sweden","y":1976,"v":11.2},{"c":"Sweden","y":1978,"v":9.8},{"c":"Sweden","y":1980,"v":9.2},{"c":"Sweden","y":1982,"v":7.9},{"c":"Sweden","y":1984,"v":7.0},{"c":"Sweden","y":1986,"v":7.2},{"c":"Sweden","y":1988,"v":6.8},{"c":"Sweden","y":1990,"v":6.4},{"c":"Sweden","y":1992,"v":6.4},{"c":"Sweden","y":1994,"v":6.8},{"c":"Sweden","y":1996,"v":7.1},{"c":"Sweden","y":1998,"v":6.7},{"c":"Sweden","y":2000,"v":6.1},{"c":"Sweden","y":2002,"v":6.2},{"c":"Sweden","y":2004,"v":6.0},{"c":"Sweden","y":2006,"v":5.8},{"c":"Sweden","y":2008,"v":5.5},{"c":"Sweden","y":2010,"v":5.7},{"c":"Sweden","y":2012,"v":5.1},{"c":"Sweden","y":2014,"v":4.7},{"c":"Sweden","y":2016,"v":4.6},{"c":"Sweden","y":2018,"v":4.4},
{"c":"Switzerland","y":1960,"v":3.4},{"c":"Switzerland","y":1962,"v":4.0},{"c":"Switzerland","y":1964,"v":4.6},{"c":"Switzerland","y":1966,"v":4.9},{"c":"Switzerland","y":1968,"v":5.4},{"c":"Switzerland","y":1970,"v":6.1},{"c":"Switzerland","y":1972,"v":6.4},{"c":"Switzerland","y":1974,"v":6.2},{"c":"Switzerland","y":1976,"v":6.5},{"c":"Switzerland","y":1978,"v":6.6},{"c":"Switzerland","y":1980,"v":6.6},{"c":"Switzerland","y":1982,"v":6.3},{"c":"Switzerland","y":1984,"v":6.6},{"c":"Switzerland","y":1986,"v":6.8},{"c":"Switzerland","y":1988,"v":6.6},{"c":"Switzerland","y":1990,"v":6.8},{"c":"Switzerland","y":1992,"v":6.7},{"c":"Switzerland","y":1994,"v":6.2},{"c":"Switzerland","y":1996,"v":6.1},{"c":"Switzerland","y":1998,"v":6.3},{"c":"Switzerland","y":2000,"v":6.0},{"c":"Switzerland","y":2002,"v":5.9},{"c":"Switzerland","y":2004,"v":6.1},{"c":"Switzerland","y":2006,"v":6.0},{"c":"Switzerland","y":2008,"v":5.8},{"c":"Switzerland","y":2010,"v":5.7},{"c":"Switzerland","y":2012,"v":5.3},{"c":"Switzerland","y":2014,"v":4.8},{"c":"Switzerland","y":2016,"v":4.7},{"c":"Switzerland","y":2018,"v":4.4},
{"c":"Turkey","y":1960,"v":0.6},{"c":"Turkey","y":1962,"v":0.7},{"c":"Turkey","y":1964,"v":0.8},{"c":"Turkey","y":1966,"v":1.0},{"c":"Turkey","y":1968,"v":1.1},{"c":"Turkey","y":1970,"v":1.3},{"c":"Turkey","y":1972,"v":1.5},{"c":"Turkey","y":1974,"v":1.6},{"c":"Turkey","y":1976,"v":1.8},{"c":"Turkey","y":1978,"v":2.0},{"c":"Turkey","y":1980,"v":1.8},{"c":"Turkey","y":1982,"v":2.0},{"c":"Turkey","y":1984,"v":2.1},{"c":"Turkey","y":1986,"v":2.4},{"c":"Turkey","y":1988,"v":2.6},{"c":"Turkey","y":1990,"v":2.6},{"c":"Turkey","y":1992,"v":2.7},{"c":"Turkey","y":1994,"v":2.8},{"c":"Turkey","y":1996,"v":3.2},{"c":"Turkey","y":1998,"v":3.3},{"c":"Turkey","y":2000,"v":3.5},{"c":"Turkey","y":2002,"v":3.2},{"c":"Turkey","y":2004,"v":3.5},{"c":"Turkey","y":2006,"v":3.8},{"c":"Turkey","y":2008,"v":4.0},{"c":"Turkey","y":2010,"v":4.1},{"c":"Turkey","y":2012,"v":4.4},{"c":"Turkey","y":2014,"v":4.4},{"c":"Turkey","y":2016,"v":4.7},{"c":"Turkey","y":2018,"v":5.1},
{"c":"United Kingdom","y":1960,"v":11.2},{"c":"United Kingdom","y":1962,"v":11.2},{"c":"United Kingdom","y":1964,"v":11.3},{"c":"United Kingdom","y":1966,"v":11.4},{"c":"United Kingdom","y":1968,"v":11.6},{"c":"United Kingdom","y":1970,"v":11.9},{"c":"United Kingdom","y":1972,"v":11.4},{"c":"United Kingdom","y":1974,"v":11.1},{"c":"United Kingdom","y":1976,"v":10.9},{"c":"United Kingdom","y":1978,"v":11.0},{"c":"United Kingdom","y":1980,"v":10.3},{"c":"United Kingdom","y":1982,"v":9.5},{"c":"United Kingdom","y":1984,"v":9.3},{"c":"United Kingdom","y":1986,"v":9.9},{"c":"United Kingdom","y":1988,"v":9.9},{"c":"United Kingdom","y":1990,"v":10.1},{"c":"United Kingdom","y":1992,"v":9.6},{"c":"United Kingdom","y":1994,"v":9.3},{"c":"United Kingdom","y":1996,"v":9.5},{"c":"United Kingdom","y":1998,"v":9.2},{"c":"United Kingdom","y":2000,"v":9.2},{"c":"United Kingdom","y":2002,"v":9.0},{"c":"United Kingdom","y":2004,"v":9.0},{"c":"United Kingdom","y":2006,"v":8.9},{"c":"United Kingdom","y":2008,"v":8.6},{"c":"United Kingdom","y":2010,"v":7.9},{"c":"United Kingdom","y":2012,"v":7.6},{"c":"United Kingdom","y":2014,"v":6.7},{"c":"United Kingdom","y":2016,"v":5.9},{"c":"United Kingdom","y":2018,"v":5.6}
]},
"data": {"name": "d"},
"layer": [
{
"mark": {"type": "line", "strokeWidth": 1.4, "clip": true},
"encoding": {
"x": {"field": "y", "type": "quantitative", "scale": {"domain": [1959, 2019], "nice": false, "zero": false},
 "axis": {"values": [1960, 1970, 1980, 1990, 2000, 2010, 2018], "format": "d", "title": null, "grid": false, "domain": false, "tickSize": -6, "tickColor": "#707070", "labelFontSize": 17, "labelColor": "#404040", "labelPadding": 20, "labelFont": "Liberation Sans"}},
"y": {"field": "v", "type": "quantitative", "scale": {"domain": [-12, 42], "nice": false, "zero": false},
 "axis": {"values": [-10, -5, 0, 5, 10, 15, 20, 25, 30, 35, 40], "labelExpr": "'' + datum.value", "title": "Emission of CO₂ Per Capita", "titleFontSize": 23, "titleFontWeight": "normal", "titleColor": "#262626", "titleFont": "Liberation Sans", "titleX": -51, "titleY": 284, "grid": false, "domain": false, "tickSize": -6, "tickColor": "#707070", "labelFontSize": 17, "labelColor": "#404040", "labelPadding": 15, "labelFont": "Liberation Sans"}},
"color": {"field": "c", "type": "nominal",
 "scale": {"domain": ["Australia","Denmark","Hungary","Luxembourg","Poland","Sweden","Austria","Finland","Iceland","Mexico","Portugal","Switzerland","Belgium","France","Ireland","Netherlands","Slovakia","Turkey","Canada","Germany","Italy","New Zealand","South Korea","United Kingdom","Czechia","Greece","Japan","Norway","Spain","United States"],
  "range": ["#3a8fd6","#78ccf2","#a560b8","#ee8556","#c44a64","#8cc25e","#ee8556","#c44a64","#8cc25e","#f4c24e","#3a8fd6","#78ccf2","#f4c24e","#3a8fd6","#78ccf2","#a560b8","#ee8556","#c44a64","#a560b8","#ee8556","#c44a64","#8cc25e","#f4c24e","#3a8fd6","#8cc25e","#f4c24e","#3a8fd6","#78ccf2","#a560b8","#ee8556"]},
 "legend": {"orient": "none", "legendX": 13, "legendY": 473, "direction": "horizontal", "columns": 6, "title": null, "symbolType": "M-1.8,0H8.6", "symbolSize": 100, "symbolStrokeWidth": 1.5, "labelFontSize": 16, "labelFont": "Liberation Sans", "labelColor": "#262626", "labelOffset": 42, "labelLimit": 200, "strokeColor": "#707070", "fillColor": "white", "padding": 6, "rowPadding": 6.3, "columnPadding": 7.8}}
}
},
{
"mark": {"type": "line", "opacity": 0},
"encoding": {
"x": {"field": "y", "type": "quantitative", "scale": {"domain": [1959, 2019], "nice": false, "zero": false},
 "axis": {"orient": "top", "values": [1960, 1970, 1980, 1990, 2000, 2010, 2018], "labels": false, "title": null, "grid": false, "domain": false, "tickSize": -6, "tickColor": "#707070"}},
"y": {"field": "v", "type": "quantitative", "scale": {"domain": [-12, 42], "nice": false, "zero": false},
 "axis": {"orient": "right", "values": [-10, -5, 0, 5, 10, 15, 20, 25, 30, 35, 40], "labels": false, "title": null, "grid": false, "domain": false, "tickSize": -6, "tickColor": "#707070"}},
"detail": {"field": "c"}
}
}
],
"resolve": {"axis": {"x": "independent", "y": "independent"}}
}
